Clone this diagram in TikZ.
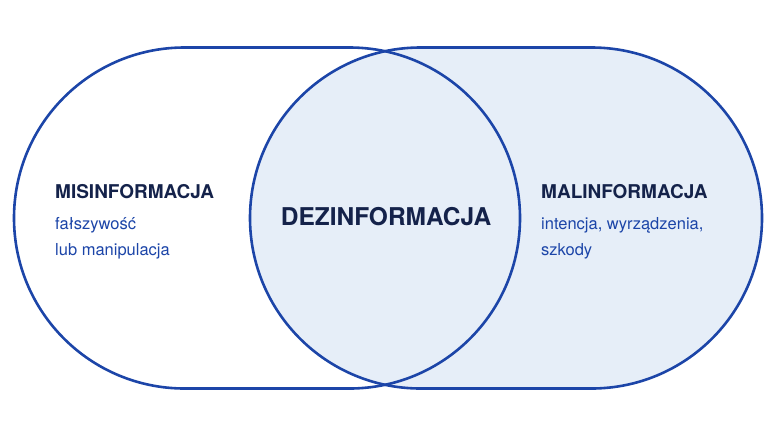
\documentclass[tikz,border=0pt]{standalone}
\usepackage{fontspec}
\setmainfont{TeX Gyre Heros}
\definecolor{lineblue}{HTML}{1C45A8}
\definecolor{fillblue}{HTML}{E6EEF8}
\definecolor{navy}{HTML}{14224A}
\begin{document}
\begin{tikzpicture}[x=1pt,y=-1pt,
  outline/.style={draw=lineblue,line width=2.6pt},
  head/.style={anchor=west,font=\bfseries\fontsize{19}{21}\selectfont,text=navy,inner sep=0},
  sub/.style={anchor=north west,align=left,font=\fontsize{16.5}{26}\selectfont,text=lineblue,inner sep=0}]
\useasboundingbox (0,0) rectangle (776,437);
\path[fill=fillblue,outline,rounded corners=170.5pt] (250,47.5) rectangle (762,388.5);
\path[outline,rounded corners=170.5pt] (14,47.5) rectangle (520,388.5);
\node[head] (mis) at (55,192) {MISINFORMACJA};
\node[sub] (missub) at (55,217) {fałszywość\\lub manipulacja};
\node[anchor=center,font=\bfseries\fontsize{24.5}{27}\selectfont,text=navy,inner sep=0] (dez) at (386,217) {DEZINFORMACJA};
\node[head] (mal) at (541,192) {MALINFORMACJA};
\node[sub] (malsub) at (541,217) {intencja, wyrządzenia,\\szkody};
\end{tikzpicture}
\end{document}
